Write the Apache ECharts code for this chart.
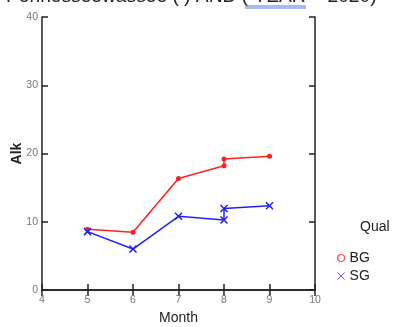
<!DOCTYPE html>
<html><head><meta charset="utf-8">
<script src="https://cdn.jsdelivr.net/npm/echarts@6/dist/echarts.min.js"></script>
<style>html,body{margin:0;padding:0;background:#fff}#c{width:394px;height:327px}</style>
</head><body><div id="c"></div>
<script>
var seriesNames = ['BG', 'SG'];
var bgMonths = [5, 6, 7, 8, 8, 9];
var bgValues = [8.9, 8.45, 16.35, 18.2, 19.2, 19.6];
var sgMonths = [5, 6, 7, 8, 8, 9];
var sgValues = [8.55, 6.0, 10.8, 10.25, 11.95, 12.35];
var xTicks = [4, 5, 6, 7, 8, 9, 10];
var yTicks = [0, 10, 20, 30, 40];

var xPath = 'path://M0,0L10,10M10,0L0,10';
function pairs(xs, ys){ return xs.map(function(x,i){ return [x, ys[i]]; }); }

var chart = echarts.init(document.getElementById('c'));
var tickStyle = {show:true, inside:true, length:6, lineStyle:{color:'#222', width:1.5}};
var lineAx = {show:true, lineStyle:{color:'#222', width:1.5}};
var lbl = {color:'#777', fontSize:10.5, fontFamily:'Liberation Sans, Arial'};
chart.setOption({
  animation:false,
  grid:{left:42, right:79, top:17, bottom:37, containLabel:false, outerBoundsMode:'none'},
  graphic:[
    {type:'text', left:6, top:-13, style:{text:'Pennesseewassee ( ) AND ( YEAR = 2020)', fontSize:19.2, fontFamily:'Liberation Sans, Arial', fill:'#222'}},
    {type:'line', shape:{x1:245,y1:6,x2:306,y2:6}, style:{stroke:'#4a7fd6', lineWidth:1}},
    {type:'line', shape:{x1:245,y1:8,x2:306,y2:8}, style:{stroke:'#4a7fd6', lineWidth:1}},
    {type:'text', left:360, top:220, style:{text:'Qual', fontSize:14, fontFamily:'Liberation Sans, Arial', fill:'#222'}}
  ],
  legend:{
    orient:'vertical', left:337, top:251, padding:0, itemWidth:7, itemHeight:7, itemGap:4,
    textStyle:{fontSize:14, color:'#222', fontFamily:'Liberation Sans, Arial'},
    lineStyle:{opacity:0},
    data:[
      {name:'BG', icon:'circle', itemStyle:{color:'#fff', borderColor:'#ff5050', borderWidth:1.2}},
      {name:'SG', icon:xPath, itemStyle:{color:'#5050ff', borderColor:'#5050ff', borderWidth:1}}
    ]
  },
  xAxis:[
    {type:'value', min:4, max:10, interval:1, name:'Month', nameLocation:'middle', nameGap:21,
     nameTextStyle:{fontSize:14, color:'#222', fontFamily:'Liberation Sans, Arial'},
     axisLine:lineAx, axisTick:tickStyle, axisLabel:Object.assign({margin:5}, lbl), splitLine:{show:false}},
    {type:'value', position:'top', min:4, max:10, interval:1, axisLine:lineAx, axisTick:tickStyle,
     axisLabel:{show:false}, splitLine:{show:false}}
  ],
  yAxis:[
    {type:'value', min:0, max:40, interval:10, name:'Alk', nameLocation:'middle', nameGap:18, nameMoveOverlap:false,
     nameTextStyle:{fontSize:14, fontWeight:'bold', color:'#222', fontFamily:'Liberation Sans, Arial'},
     axisLine:lineAx, axisTick:tickStyle, axisLabel:Object.assign({margin:4}, lbl), splitLine:{show:false}},
    {type:'value', position:'right', min:0, max:40, interval:10, axisLine:lineAx, axisTick:tickStyle,
     axisLabel:{show:false}, splitLine:{show:false}}
  ],
  series:[
    {name:seriesNames[0], type:'line', data:pairs(bgMonths, bgValues), symbol:'circle', symbolSize:5,
     lineStyle:{color:'#ff2020', width:1.5}, itemStyle:{color:'#ff2020'}},
    {name:seriesNames[1], type:'line', data:pairs(sgMonths, sgValues), symbol:xPath, symbolSize:7,
     lineStyle:{color:'#2020ff', width:1.5}, itemStyle:{color:'#2020ff', borderColor:'#2020ff', borderWidth:1.5}}
  ]
});
</script></body></html>
